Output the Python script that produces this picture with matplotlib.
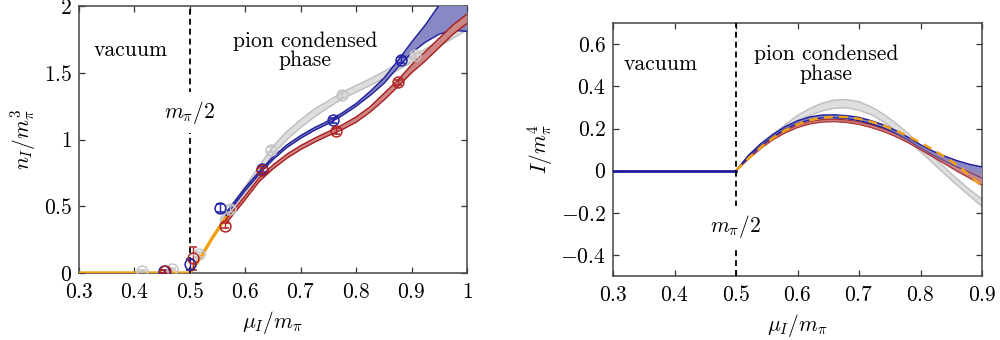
import matplotlib
matplotlib.use("Agg")
import matplotlib.pyplot as plt
from matplotlib.ticker import FuncFormatter

plt.rcParams['mathtext.fontset'] = 'cm'
plt.rcParams['font.family'] = ['cmr10', 'DejaVu Serif']
plt.rcParams['axes.formatter.use_mathtext'] = True
plt.rcParams['axes.unicode_minus'] = True

# ---------------- left panel data: n_I / m_pi^3 ----------------
gray_x = [0.555, 0.57, 0.6, 0.625, 0.65, 0.675, 0.7, 0.725, 0.75, 0.775, 0.8, 0.825, 0.85, 0.875, 0.9, 0.925, 0.95, 0.975, 1.0]
gray_lo = [0.39, 0.45, 0.60, 0.74, 0.89, 1.00, 1.09, 1.17, 1.24, 1.305, 1.355, 1.405, 1.46, 1.52, 1.58, 1.64, 1.70, 1.76, 1.82]
gray_hi = [0.41, 0.48, 0.65, 0.80, 0.95, 1.06, 1.15, 1.23, 1.29, 1.355, 1.405, 1.455, 1.51, 1.57, 1.625, 1.68, 1.74, 1.80, 1.86]

blue_x = [0.565, 0.6, 0.625, 0.65, 0.675, 0.7, 0.725, 0.75, 0.775, 0.8, 0.825, 0.85, 0.875, 0.9, 0.925, 0.95, 0.975, 1.0]
blue_lo = [0.43, 0.62, 0.74, 0.85, 0.94, 1.01, 1.07, 1.12, 1.18, 1.25, 1.33, 1.42, 1.54, 1.65, 1.73, 1.79, 1.82, 1.81]
blue_hi = [0.45, 0.64, 0.76, 0.87, 0.96, 1.03, 1.09, 1.14, 1.20, 1.27, 1.36, 1.46, 1.59, 1.73, 1.86, 2.01, 2.15, 2.30]

red_x = [0.565, 0.6, 0.625, 0.65, 0.675, 0.7, 0.725, 0.75, 0.775, 0.8, 0.825, 0.85, 0.875, 0.9, 0.925, 0.95, 0.975, 1.0]
red_lo = [0.37, 0.55, 0.685, 0.78, 0.86, 0.925, 0.98, 1.03, 1.075, 1.13, 1.205, 1.295, 1.395, 1.50, 1.59, 1.69, 1.79, 1.87]
red_hi = [0.40, 0.58, 0.715, 0.81, 0.89, 0.955, 1.01, 1.06, 1.11, 1.17, 1.245, 1.345, 1.445, 1.56, 1.66, 1.76, 1.86, 1.94]

orange_x = [0.3, 0.5, 0.52, 0.54, 0.569]
orange_y = [0.0, 0.0, 0.12, 0.26, 0.44]

gray_pts_x = [0.413, 0.467, 0.517, 0.572, 0.646, 0.775, 0.907]
gray_pts_y = [0.015, 0.03, 0.14, 0.48, 0.925, 1.335, 1.63]
gray_pts_e = [0.01, 0.01, 0.02, 0.02, 0.02, 0.02, 0.02]

blue_pts_x = [0.454, 0.501, 0.555, 0.631, 0.759, 0.881]
blue_pts_y = [0.012, 0.065, 0.485, 0.78, 1.145, 1.595]
blue_pts_e = [0.01, 0.04, 0.03, 0.025, 0.02, 0.02]

red_pts_x = [0.456, 0.505, 0.563, 0.631, 0.763, 0.876]
red_pts_y = [0.012, 0.11, 0.355, 0.77, 1.065, 1.43]
red_pts_e = [0.01, 0.085, 0.02, 0.02, 0.02, 0.02]

# ---------------- right panel data: I / m_pi^4 ----------------
r_x = [0.5, 0.52, 0.54, 0.56, 0.58, 0.6, 0.62, 0.64, 0.66, 0.68, 0.7, 0.72, 0.74, 0.76, 0.78, 0.8, 0.82, 0.84, 0.86, 0.88, 0.9]
r_gray_lo = [0, 0.062, 0.115, 0.16, 0.2, 0.235, 0.262, 0.283, 0.296, 0.298, 0.287, 0.265, 0.232, 0.19, 0.143, 0.09, 0.037, -0.018, -0.07, -0.12, -0.17]
r_gray_hi = [0, 0.07, 0.127, 0.173, 0.218, 0.262, 0.295, 0.32, 0.335, 0.337, 0.327, 0.303, 0.268, 0.225, 0.176, 0.122, 0.068, 0.013, -0.04, -0.09, -0.135]
r_blue_lo = [0, 0.062, 0.115, 0.16, 0.197, 0.224, 0.241, 0.250, 0.251, 0.247, 0.238, 0.222, 0.203, 0.176, 0.144, 0.108, 0.075, 0.045, 0.017, -0.008, -0.035]
r_blue_hi = [0, 0.072, 0.127, 0.172, 0.209, 0.237, 0.255, 0.264, 0.265, 0.261, 0.253, 0.237, 0.217, 0.19, 0.158, 0.123, 0.093, 0.068, 0.047, 0.03, 0.018]
r_red_lo = [0, 0.055, 0.105, 0.147, 0.18, 0.205, 0.222, 0.231, 0.233, 0.229, 0.220, 0.205, 0.186, 0.162, 0.133, 0.1, 0.066, 0.032, -0.003, -0.035, -0.068]
r_red_hi = [0, 0.062, 0.114, 0.157, 0.19, 0.216, 0.233, 0.242, 0.244, 0.240, 0.232, 0.218, 0.199, 0.176, 0.147, 0.115, 0.084, 0.055, 0.027, 0.002, -0.015]
r_orange = [0, 0.058, 0.11, 0.155, 0.192, 0.22, 0.24, 0.251, 0.256, 0.254, 0.246, 0.232, 0.213, 0.19, 0.163, 0.133, 0.1, 0.065, 0.025, -0.022, -0.075]
r_vac_x = [0.3, 0.5]
r_vac_y = [0.0, 0.0]

xt_left = [0.3, 0.4, 0.5, 0.6, 0.7, 0.8, 0.9, 1.0]
yt_left = [0, 0.5, 1, 1.5, 2]
xt_right = [0.3, 0.4, 0.5, 0.6, 0.7, 0.8, 0.9]
yt_right = [-0.4, -0.2, 0, 0.2, 0.4, 0.6]

C_BLUE = '#1c1c9a'
C_BLUE_F = '#8888c4'
C_RED = '#a81c1c'
C_RED_F = '#cc8686'
C_GRAY = '#bdbdbd'
C_GRAY_F = '#dedede'
C_ORANGE = '#f0a010'

FS = 15.5
fig = plt.figure(figsize=(10, 3.4), dpi=100)
axL = fig.add_axes([0.079, 0.197, 0.388, 0.785])
axR = fig.add_axes([0.613, 0.188, 0.369, 0.744])

fmt = FuncFormatter(lambda v, p: '$%g$' % round(v, 3))


def band(ax, x, lo, hi, ec, fc, z):
    ax.fill_between(x, lo, hi, facecolor=fc, edgecolor='none', zorder=z)
    ax.plot(x, lo, color=ec, lw=1.0, zorder=z + 0.1)
    ax.plot(x, hi, color=ec, lw=1.0, zorder=z + 0.1)


def style(ax, xt, yt):
    ax.set_xticks(xt)
    ax.set_yticks(yt)
    ax.xaxis.set_major_formatter(fmt)
    ax.yaxis.set_major_formatter(fmt)
    ax.tick_params(direction='in', top=True, right=True, length=4, width=0.9,
                   color='#333333', labelsize=FS)
    ax.tick_params(axis='x', pad=6.5)
    ax.tick_params(axis='y', pad=5)
    for s in ax.spines.values():
        s.set_color('#444444')
        s.set_linewidth(1.1)


# ---- left ----
axL.plot(orange_x, orange_y, color=C_ORANGE, lw=2.4, zorder=3, solid_capstyle='butt')
band(axL, gray_x, gray_lo, gray_hi, C_GRAY, C_GRAY_F, 2)
band(axL, blue_x, blue_lo, blue_hi, C_BLUE, C_BLUE_F, 4)
band(axL, red_x, red_lo, red_hi, C_RED, C_RED_F, 5)
for px, py, pe, c in [(gray_pts_x, gray_pts_y, gray_pts_e, '#c4c4c4'),
                      (blue_pts_x, blue_pts_y, blue_pts_e, '#2020a8'),
                      (red_pts_x, red_pts_y, red_pts_e, '#b02222')]:
    axL.errorbar(px, py, yerr=pe, fmt='o', ms=7.8, mfc='none', mec=c, mew=1.1,
                 ecolor=c, elinewidth=1.0, capsize=3, capthick=1.0, zorder=7)
axL.axvline(0.5, color='black', lw=1.3, dashes=(3.3, 2.2), zorder=6)
axL.text(0.5, 1.2, r'$m_\pi/2$', fontsize=FS, ha='center', va='center', zorder=8,
         bbox=dict(facecolor='white', edgecolor='none', pad=5))
axL.text(0.393, 1.67, 'vacuum', fontsize=FS, ha='center', va='center')
axL.text(0.708, 1.665, 'pion condensed\nphase', fontsize=FS, ha='center', va='center',
         linespacing=1.0)
axL.set_xlim(0.3, 1.0)
axL.set_ylim(0, 2)
style(axL, xt_left, yt_left)
axL.set_xlabel(r'$\mu_I/m_\pi$', fontsize=FS, labelpad=5)
axL.set_ylabel(r'$n_I/m_\pi^3$', fontsize=FS, labelpad=4)

# ---- right ----
band(axR, r_x, r_gray_lo, r_gray_hi, C_GRAY, C_GRAY_F, 2)
band(axR, r_x, r_red_lo, r_red_hi, C_RED, C_RED_F, 3)
band(axR, r_x, r_blue_lo, r_blue_hi, C_BLUE, C_BLUE_F, 4)
axR.fill_between(r_x, r_red_lo, r_red_hi, facecolor=C_RED_F, alpha=0.45, edgecolor='none', zorder=4.5)
axR.plot(r_x, r_orange, color=C_ORANGE, lw=1.8, dashes=(3.5, 2.5), zorder=5)
axR.plot(r_vac_x, r_vac_y, color=C_BLUE, lw=2.0, zorder=5)
axR.axvline(0.5, color='black', lw=1.3, dashes=(3.3, 2.2), zorder=6)
axR.text(0.5, -0.265, r'$m_\pi/2$', fontsize=FS, ha='center', va='center', zorder=8,
         bbox=dict(facecolor='white', edgecolor='none', pad=5))
axR.text(0.378, 0.506, 'vacuum', fontsize=FS, ha='center', va='center')
axR.text(0.647, 0.505, 'pion condensed\nphase', fontsize=FS, ha='center', va='center',
         linespacing=1.0)
axR.set_xlim(0.3, 0.9)
axR.set_ylim(-0.5, 0.7)
style(axR, xt_right, yt_right)
axR.set_xlabel(r'$\mu_I/m_\pi$', fontsize=FS, labelpad=5)
axR.set_ylabel(r'$I/m_\pi^4$', fontsize=FS, labelpad=4)

fig.savefig('out.png', dpi=100)
